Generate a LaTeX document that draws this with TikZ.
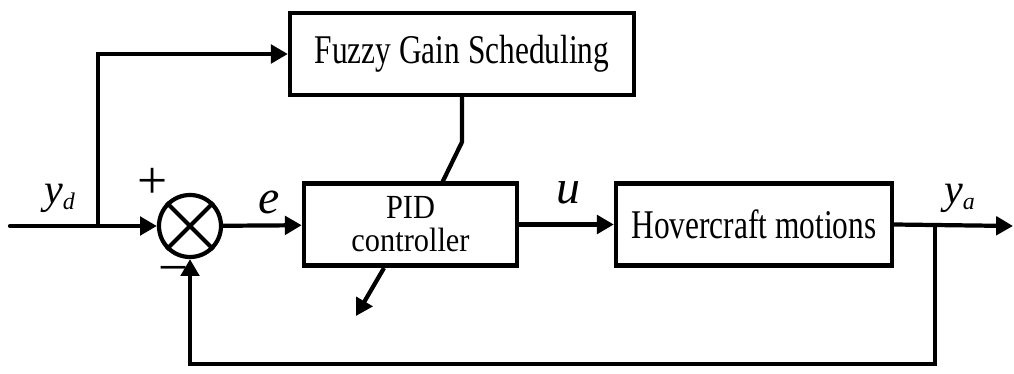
\documentclass[tikz,border=0pt]{standalone}
\usepackage{fontspec}
\setmainfont[FakeStretch=0.77]{Liberation Serif}
\newfontfamily\lblfont{Liberation Serif}
\newfontfamily\pidfont[FakeStretch=0.9]{Liberation Serif}
\usetikzlibrary{arrows.meta}

\begin{document}
\begin{tikzpicture}[x=0.025cm, y=-0.025cm, line width=3pt,
	every node/.style={font=\fontsize{29}{30}\selectfont},
	blk/.style={draw, line width=3pt, inner sep=0pt, minimum height=2.05cm},
	arr/.style={-{Triangle[length=12pt,width=13pt]}},
	sig/.style={font=\lblfont\itshape\fontsize{30}{30}\selectfont, inner sep=0pt, anchor=base west},
	sgn/.style={font=\lblfont\fontsize{38}{38}\selectfont, inner sep=0pt}]
	\useasboundingbox (0,0) rectangle (1014,374);
	% blocks
	\node[blk, minimum width=8.6cm] (fgs) at (462,54) {Fuzzy Gain Scheduling};
	\node[blk, minimum width=5.33cm, align=center, font=\pidfont\fontsize{24}{23.5}\selectfont] (pid) at (410.5,224.5) {PID\\controller};
	\node[blk, minimum width=6.9cm] (hov) at (754,224.5) {Hovercraft motions};
	\node[draw, circle, line width=3pt, minimum size=1.55cm, inner sep=0pt] (sum) at (190,226) {};
	\draw (sum.north east) -- (sum.south west) (sum.north west) -- (sum.south east);
	% signals
	\coordinate (in) at (10,226);
	\coordinate (tap) at (98,226);
	\coordinate (pick) at (935,226);
	\coordinate (out) at (1013,226);
	\coordinate (knee) at (462,142);
	\coordinate (tune) at (442,183);
	\coordinate (adj0) at (384,268);
	\coordinate (adj1) at (356,316);
	\draw[arr, line cap=round] (in) -- (sum);
	\draw[arr] (tap) |- (fgs.west);
	\draw[arr] (sum) -- (pid);
	\draw[arr] (pid) -- (hov);
	\draw[arr] (hov.east) -- (out);
	\draw[arr] (pick) -- ++(0,138) -| (sum.south);
	\draw (fgs.south) -- (knee) -- (tune);
	\draw[arr] (adj0) -- (adj1);
	% labels
	\node[sig] (yd) at (42,203) {y\raisebox{-0.35ex}{\fontsize{17}{17}\selectfont d}};
	\node[sig, font=\lblfont\itshape\fontsize{34}{34}\selectfont] (e) at (256,213) {e};
	\node[sig, font=\lblfont\itshape\fontsize{34}{34}\selectfont] (u) at (554,203) {u};
	\node[sig] (ya) at (942,203) {y\raisebox{-0.35ex}{\fontsize{17}{17}\selectfont a}};
	\node[sgn] (plus) at (153,183) {+};
	\node[sgn] (minus) at (174,276) {−};
\end{tikzpicture}
\end{document}
